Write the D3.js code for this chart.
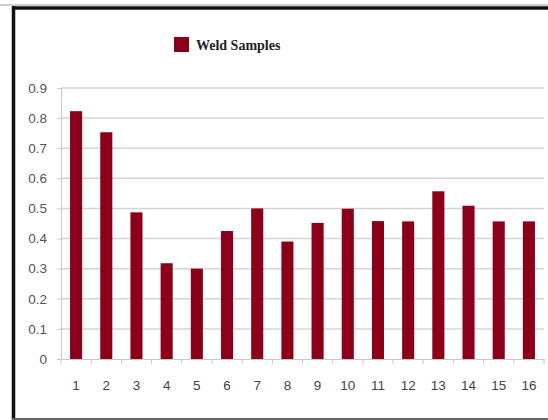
<!DOCTYPE html>
<html>
<head>
<meta charset="utf-8">
<script src="https://cdn.jsdelivr.net/npm/d3@7"></script>
<style>
  body { margin: 0; background: #fff; }
</style>
</head>
<body>
<svg id="chart"></svg>
<script>
const samples = ["1","2","3","4","5","6","7","8","9","10","11","12","13","14","15","16"];
const weldValues = [0.823, 0.753, 0.487, 0.318, 0.300, 0.425, 0.500, 0.390, 0.452, 0.499, 0.458, 0.457, 0.557, 0.509, 0.457, 0.457];
const yTicks = [0, 0.1, 0.2, 0.3, 0.4, 0.5, 0.6, 0.7, 0.8, 0.9];
const seriesName = "Weld Samples";

const W = 548, H = 420;
const margin = { top: 88, right: 4, bottom: 61, left: 61 };
const width = W - margin.left - margin.right;
const height = H - margin.top - margin.bottom;

const root = d3.select("#chart").attr("width", W).attr("height", H);

// frame (left, top, bottom edges like the scanned figure)
root.append("line").attr("x1", 0).attr("x2", W).attr("y1", 5).attr("y2", 5)
  .attr("stroke", "#ccc").attr("stroke-width", 2);
root.append("line").attr("x1", 13.5).attr("x2", W).attr("y1", 8).attr("y2", 8)
  .attr("stroke", "#111").attr("stroke-width", 3.5);
root.append("line").attr("x1", 13.5).attr("x2", 13.5).attr("y1", 6).attr("y2", H)
  .attr("stroke", "#111").attr("stroke-width", 3.5);
root.append("line").attr("x1", 12).attr("x2", W).attr("y1", 419).attr("y2", 419)
  .attr("stroke", "#666").attr("stroke-width", 2);

const svg = root.append("g")
  .attr("transform", `translate(${margin.left},${margin.top})`);

const x = d3.scaleBand().domain(samples).range([0, width]).paddingInner(0.6).paddingOuter(0.3);
const y = d3.scaleLinear().domain([0, 0.9]).range([height, 0]);

// gridlines
svg.selectAll(".grid")
  .data(yTicks.filter(d => d > 0))
  .enter().append("line")
  .attr("x1", 0).attr("x2", width)
  .attr("y1", d => y(d)).attr("y2", d => y(d))
  .attr("stroke", "#d4d4d4").attr("stroke-width", 1.5);

// bars
svg.selectAll(".bar")
  .data(weldValues)
  .enter().append("rect")
  .attr("class", "bar")
  .attr("x", (d, i) => x(samples[i]))
  .attr("width", x.bandwidth())
  .attr("y", d => y(d))
  .attr("height", d => height - y(d))
  .attr("fill", "#8b0018");

// y axis
const yAxis = svg.append("g")
  .call(d3.axisLeft(y).tickValues(yTicks).tickFormat(d => d === 0 ? "0" : d3.format(".1f")(d)).tickSize(4).tickPadding(10));
yAxis.select(".domain").attr("stroke", "#c8c8c8");
yAxis.selectAll("line").attr("stroke", "#c8c8c8");
yAxis.selectAll("text").style("fill", "#555").style("font-family", "Liberation Sans Narrow, Arial Narrow, sans-serif").style("font-size", "13.5px");

// x axis with ticks between categories
const xAxis = svg.append("g")
  .attr("transform", `translate(0,${height})`)
  .call(d3.axisBottom(x).tickSize(0).tickPadding(21));
xAxis.select(".domain").attr("stroke", "#c8c8c8");
xAxis.selectAll("text").style("fill", "#444").style("font-family", "Liberation Sans Narrow, Arial Narrow, sans-serif").style("font-size", "13.5px");
const step = x.step();
xAxis.selectAll(".sep")
  .data(d3.range(samples.length + 1))
  .enter().append("line")
  .attr("x1", i => x(samples[0]) - (step - x.bandwidth()) / 2 + i * step)
  .attr("x2", i => x(samples[0]) - (step - x.bandwidth()) / 2 + i * step)
  .attr("y1", 0).attr("y2", 5)
  .attr("stroke", "#c8c8c8");

// legend
const legend = root.append("g").attr("transform", "translate(174,37)");
legend.append("rect").attr("width", 15).attr("height", 15).attr("fill", "#8b0018");
legend.append("text").attr("x", 22).attr("y", 13)
  .style("font-family", "Liberation Serif, Times New Roman, serif")
  .style("font-weight", "bold").style("font-size", "14px").style("fill", "#222")
  .text(seriesName);
</script>
</body>
</html>
